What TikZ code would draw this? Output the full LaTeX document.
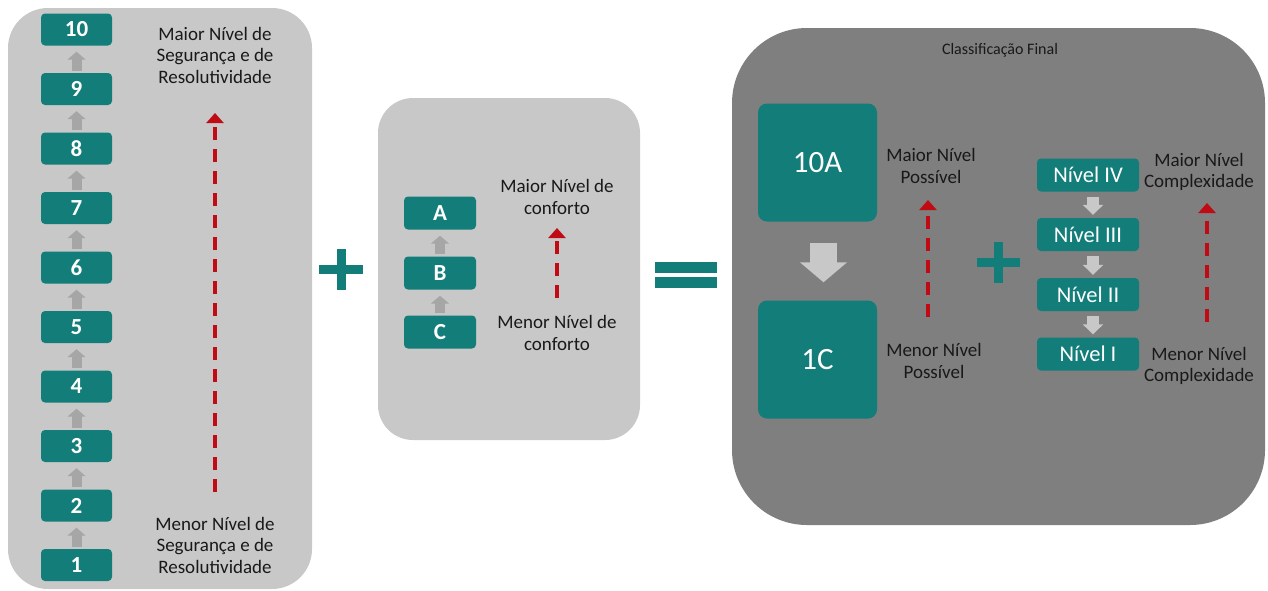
\documentclass[tikz,border=0pt]{standalone}
\usepackage{fontspec}
\setmainfont{Carlito}
\usetikzlibrary{arrows.meta}

\definecolor{tealbox}{RGB}{18,125,121}
\definecolor{panellight}{RGB}{200,200,200}
\definecolor{paneldark}{RGB}{127,127,127}
\definecolor{arrowgrey}{RGB}{166,166,166}
\definecolor{arrowlight}{RGB}{200,200,200}
\definecolor{arrowred}{RGB}{192,10,20}
\definecolor{txtdark}{RGB}{25,25,25}

\begin{document}
\begin{tikzpicture}[x=1pt,y=-1pt,
  stepbox/.style={fill=tealbox, rounded corners=4pt, text=white, inner sep=0pt,
    font=\fontsize{23}{23}\selectfont\bfseries, minimum width=71pt, minimum height=32pt},
  bigbox/.style={fill=tealbox, rounded corners=9pt, text=white, inner sep=0pt,
    font=\fontsize{31}{31}\selectfont, minimum width=119pt, minimum height=118pt},
  levelbox/.style={fill=tealbox, rounded corners=4pt, text=white, inner sep=0pt,
    font=\fontsize{22.5}{22.5}\selectfont, minimum width=102pt, minimum height=33pt},
  note/.style={align=center, text=txtdark, inner sep=0pt,
    font=\fontsize{19}{21.5}\selectfont},
  uparrow/.style={draw=arrowgrey, line width=10pt,
    -{Triangle[width=18pt,length=8pt]}, shorten <=2pt, shorten >=6pt},
  downarrow/.style={draw=arrowlight, line width=12pt,
    -{Triangle[width=20pt,length=10pt]}, shorten <=5pt, shorten >=3pt},
  bigdown/.style={draw=arrowlight, line width=27pt,
    -{Triangle[width=46pt,length=20pt]}, shorten <=21pt, shorten >=18pt},
  redarrow/.style={draw=arrowred, line width=4pt, dash pattern=on 13pt off 9pt,
    -{Triangle[width=17pt,length=10pt]}},
  sign/.style={draw=tealbox, line width=9pt}
]
\useasboundingbox (0,0) rectangle (1268,590);
\fill[white] (0,0) rectangle (1268,590);

% panels
\fill[panellight, rounded corners=40pt] (8,8) rectangle (312,589);
\fill[panellight, rounded corners=35pt] (378,98) rectangle (640,440);
\fill[paneldark, rounded corners=75pt] (732,28) rectangle (1265,525);

% ---- left column: levels 1 to 10
\foreach \i in {1,...,10} {
  \node[stepbox] (s\i) at (76.5, {565-(\i-1)*59.5}) {\i};
}
\foreach \i [evaluate=\i as \j using int(\i+1)] in {1,...,9} {
  \draw[uparrow] (s\i.north) -- (s\j.south);
}
\coordinate (lbot) at (215,492);
\coordinate (ltop) at (215,113);
\draw[redarrow] (lbot) -- (ltop);
\node[note] (ltxt) at (215,55) {Maior Nível de\\Segurança e de\\Resolutividade};
\node[note] (lbtxt) at (215,545) {Menor Nível de\\Segurança e de\\Resolutividade};

% plus
\draw[sign] (319,269) -- (363,269);
\draw[sign] (341,249) -- (341,290);

% ---- middle column: comfort
\node[stepbox, minimum width=72pt, minimum height=33pt] (cA) at (440,213) {A};
\node[stepbox, minimum width=72pt, minimum height=33pt] (cB) at (440,273) {B};
\node[stepbox, minimum width=72pt, minimum height=33pt] (cC) at (440,332) {C};
\draw[uparrow] (cC.north) -- (cB.south);
\draw[uparrow] (cB.north) -- (cA.south);
\coordinate (mbot) at (557,298);
\coordinate (mtop) at (557,228);
\draw[redarrow] (mbot) -- (mtop);
\node[note] (mtxt) at (557,197) {Maior Nível de\\conforto};
\node[note] (mbtxt) at (557,333) {Menor Nível de\\conforto};

% equals
\draw[draw=tealbox, line width=10.5pt] (655,267.5) -- (717,267.5);
\draw[draw=tealbox, line width=10.5pt] (655,282.5) -- (717,282.5);

% ---- right panel: final classification
\node[text=txtdark, inner sep=0pt, font=\fontsize{16}{16}\selectfont] (title) at (1000,50) {Classificação Final};

\node[bigbox] (top) at (817.5,162.5) {10A};
\node[bigbox] (bot) at (817.5,359.5) {1C};
\draw[bigdown] ([xshift=6pt]top.south) -- ([xshift=6pt]bot.north);

\coordinate (pbot) at (928,317);
\coordinate (ptop) at (928,200);
\draw[redarrow] (pbot) -- (ptop);
\node[note] (ptxt) at (931,166) {Maior Nível\\Possível};
\node[note] (pbtxt) at (934,361) {Menor Nível\\Possível};

% plus
\draw[sign] (977,262.5) -- (1020,262.5);
\draw[sign] (998.5,242) -- (998.5,283);

\node[levelbox] (n4) at (1088,175) {Nível IV};
\node[levelbox] (n3) at (1088,234.5) {Nível III};
\node[levelbox] (n2) at (1088,294.5) {Nível II};
\node[levelbox] (n1) at (1088,354) {Nível I};
\draw[downarrow] ([xshift=5pt]n4.south) -- ([xshift=5pt]n3.north);
\draw[downarrow] ([xshift=5pt]n3.south) -- ([xshift=5pt]n2.north);
\draw[downarrow] ([xshift=5pt]n2.south) -- ([xshift=5pt]n1.north);

\coordinate (cbot) at (1207,322);
\coordinate (ctop) at (1207,203);
\draw[redarrow] (cbot) -- (ctop);
\node[note] (ctxt) at (1199,172) {Maior Nível\\Complexidade};
\node[note] (cbtxt) at (1199,366) {Menor Nível\\Complexidade};
\end{tikzpicture}
\end{document}
